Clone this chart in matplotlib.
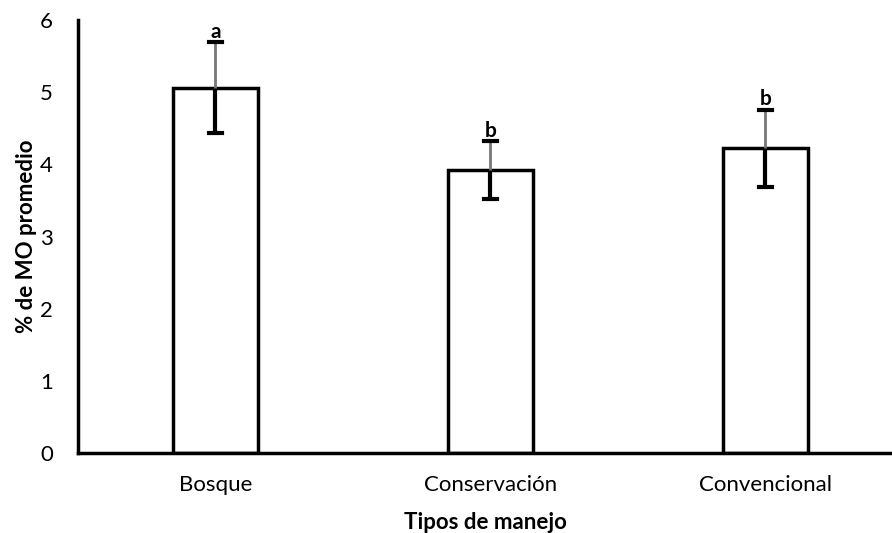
import numpy as np
import matplotlib.pyplot as plt

# data
categories = ['Bosque', 'Conservación', 'Convencional']
means = [5.06, 3.92, 4.22]
errors = [0.63, 0.40, 0.53]
letters = ['a', 'b', 'b']

plt.rcParams['font.family'] = ['Lato', 'DejaVu Sans']

fig = plt.figure(figsize=(8.92, 5.33), dpi=100)
ax = fig.add_axes([0.0874, 0.150, 0.9126, 0.8125])

x = np.arange(len(categories))
ax.bar(x, means, width=0.31, color='white', edgecolor='black', linewidth=2.5, zorder=2)

for xi, m, e, lab in zip(x, means, errors, letters):
    # lower half, thick black
    ax.plot([xi, xi], [m - e, m], color='black', lw=3, zorder=3, solid_capstyle='butt')
    # upper half, thin grey
    ax.plot([xi, xi], [m, m + e], color='#777777', lw=2, zorder=3, solid_capstyle='butt')
    # caps
    ax.plot([xi - 0.022, xi + 0.022], [m - e, m - e], color='black', lw=3, zorder=4)
    ax.plot([xi - 0.022, xi + 0.022], [m + e, m + e], color='black', lw=3, zorder=4)
    ax.text(xi, m + e + 0.01, lab, ha='center', va='bottom', fontsize=15, fontweight='bold')

ax.set_xlim(-0.5, 2.46)
ax.set_ylim(0, 6)
ax.set_yticks(range(0, 7))
ax.set_xticks(x)
ax.set_xticklabels(categories)
ax.tick_params(axis='x', length=0, labelsize=16, pad=16)
ax.tick_params(axis='y', length=0, labelsize=16, pad=18)

for s in ['top', 'right']:
    ax.spines[s].set_visible(False)
for s in ['left', 'bottom']:
    ax.spines[s].set_linewidth(2.5)

ax.set_xlabel('Tipos de manejo', fontsize=16, fontweight='bold', labelpad=12)
ax.set_ylabel('% de MO promedio', fontsize=16, fontweight='bold', labelpad=2)

fig.savefig('out.png', dpi=100)
